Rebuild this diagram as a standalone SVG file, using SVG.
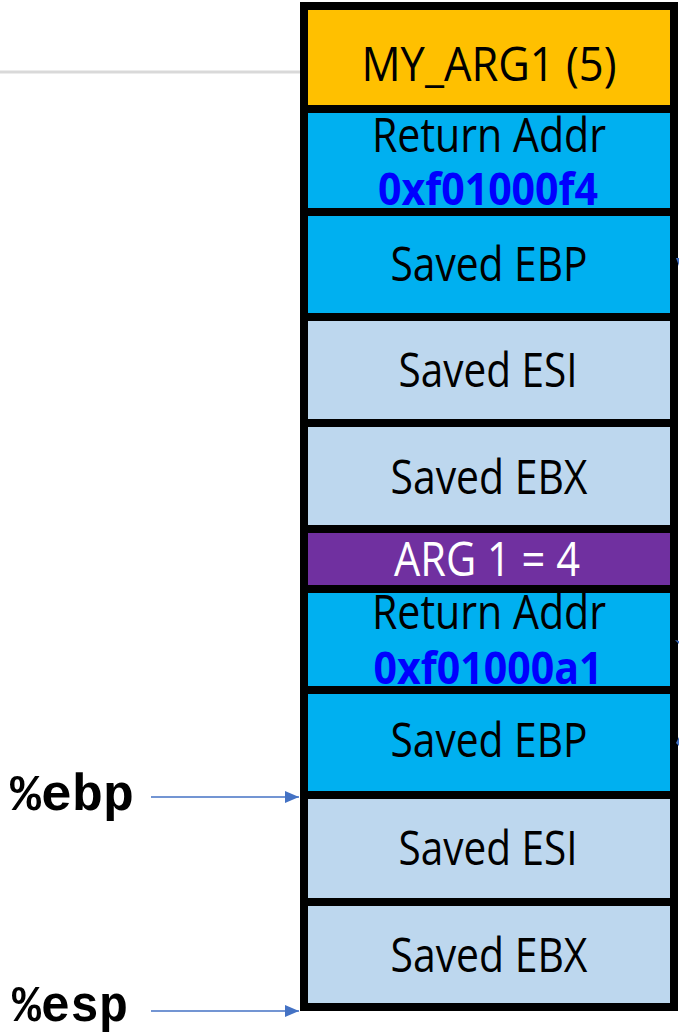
<svg xmlns="http://www.w3.org/2000/svg" width="679" height="1033" viewBox="0 0 679 1033">
<style>
.cell{stroke:#000;stroke-width:8}
.gold{fill:#FFC000}.blue{fill:#00B0F0}.lb{fill:#BDD7EE}.purple{fill:#7030A0}
.t{font-family:"Open Sans","Liberation Sans",sans-serif;font-size:47px;fill:#000;text-anchor:middle}
.w{fill:#fff}
.addr{font-family:"Open Sans","Liberation Sans",sans-serif;font-size:45px;font-weight:bold;fill:#0000FF;text-anchor:middle}
.reg{font-family:"Liberation Mono","Courier New",monospace;font-size:52px;font-weight:bold;fill:#000}
.conn{stroke:#4472C4;stroke-width:1.5;fill:none}
</style>
<defs>
<marker id="ah" markerWidth="14" markerHeight="12" refX="14" refY="6" orient="auto" markerUnits="userSpaceOnUse">
<path d="M0,0 L14,6 L0,12 Z" fill="#4472C4"/>
</marker>
</defs>
<line x1="0" y1="72" x2="300" y2="72" stroke="#D9D9D9" stroke-width="3"/>
<g id="n1"><rect class="cell gold" x="304" y="6" width="370" height="103"/><text class="t" x="489" y="81" textLength="255" lengthAdjust="spacingAndGlyphs">MY_ARG1 (5)</text></g>
<g id="n2"><rect class="cell blue" x="304" y="109" width="370" height="103"/><text class="t" x="489" y="152" textLength="234" lengthAdjust="spacingAndGlyphs">Return Addr</text><text class="addr" x="488" y="205" textLength="220" lengthAdjust="spacingAndGlyphs">0xf01000f4</text></g>
<g id="n3"><rect class="cell blue" x="304" y="212" width="370" height="105"/><text class="t" x="489" y="281" textLength="197" lengthAdjust="spacingAndGlyphs">Saved EBP</text></g>
<g id="n4"><rect class="cell lb" x="304" y="317" width="370" height="106"/><text class="t" x="488" y="387" textLength="179" lengthAdjust="spacingAndGlyphs">Saved ESI</text></g>
<g id="n5"><rect class="cell lb" x="304" y="423" width="370" height="106"/><text class="t" x="489" y="494" textLength="197" lengthAdjust="spacingAndGlyphs">Saved EBX</text></g>
<g id="n6"><rect class="cell purple" x="304" y="529" width="370" height="60"/><text class="t w" x="487" y="576" textLength="186" lengthAdjust="spacingAndGlyphs">ARG 1 = 4</text></g>
<g id="n7"><rect class="cell blue" x="304" y="589" width="370" height="101"/><text class="t" x="489" y="629" textLength="234" lengthAdjust="spacingAndGlyphs">Return Addr</text><text class="addr" x="488" y="684" textLength="229" lengthAdjust="spacingAndGlyphs">0xf01000a1</text></g>
<g id="n8"><rect class="cell blue" x="304" y="690" width="370" height="105"/><text class="t" x="489" y="757" textLength="197" lengthAdjust="spacingAndGlyphs">Saved EBP</text></g>
<g id="n9"><rect class="cell lb" x="304" y="795" width="370" height="107"/><text class="t" x="488" y="865" textLength="179" lengthAdjust="spacingAndGlyphs">Saved ESI</text></g>
<g id="n10"><rect class="cell lb" x="304" y="902" width="370" height="105"/><text class="t" x="489" y="972" textLength="197" lengthAdjust="spacingAndGlyphs">Saved EBX</text></g>
<g id="ebp"><text class="reg" x="10" y="810" textLength="124" lengthAdjust="spacingAndGlyphs">%ebp</text></g>
<g id="esp"><text class="reg" x="12" y="1021" textLength="116" lengthAdjust="spacingAndGlyphs">%esp</text></g>
<g id="connectors">
<line class="conn" x1="151" y1="797" x2="299" y2="797" marker-end="url(#ah)"/>
<line class="conn" x1="151" y1="1011" x2="299" y2="1011" marker-end="url(#ah)"/>
<path d="M676,258 L679,258 L679,266 Z" fill="#4472C4"/>
<path d="M675,640 L679,641 L679,644 Z" fill="#4472C4"/>
<path d="M679,737 L676,743 L679,746 Z" fill="#4472C4"/>
</g>
</svg>
